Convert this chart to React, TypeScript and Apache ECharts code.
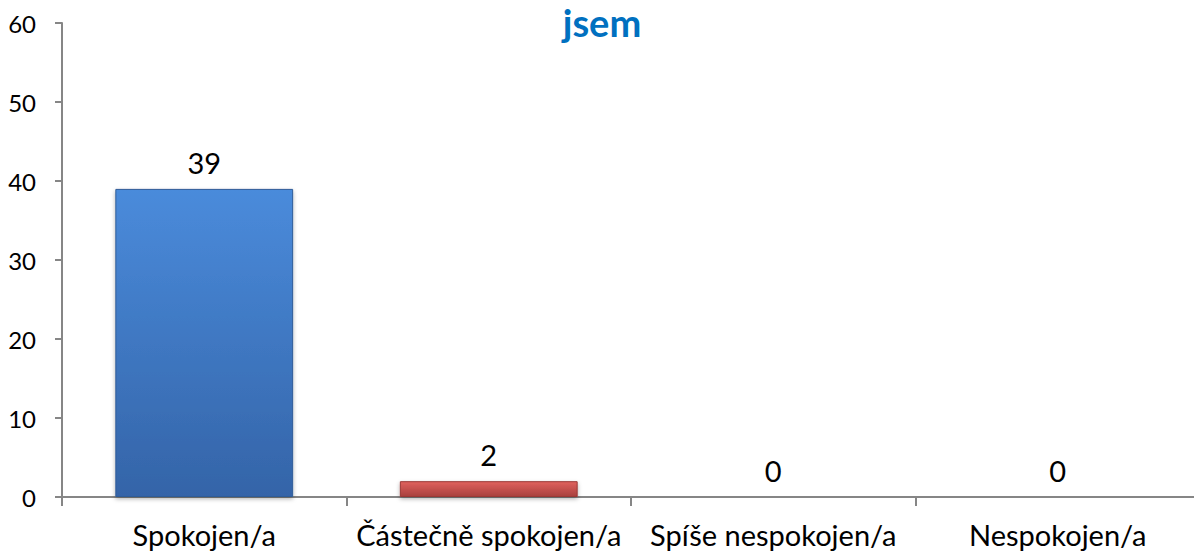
import React, { useEffect, useRef } from "react";
import * as echarts from "echarts";

const categories = ["Spokojen/a", "Částečně spokojen/a", "Spíše nespokojen/a", "Nespokojen/a"];
const values = [39, 2, 0, 0];
const yTicks = [0, 10, 20, 30, 40, 50, 60];
const titleText = "jsem";

const FONT = "Lato, 'Noto Sans', sans-serif";

export default function App() {
  const ref = useRef<HTMLDivElement>(null);
  useEffect(() => {
    const chart = echarts.init(ref.current!, undefined, { renderer: "svg" });
    const blue = new echarts.graphic.LinearGradient(0, 0, 0, 1, [
      { offset: 0, color: "#4a8bdb" },
      { offset: 1, color: "#3464a8" },
    ]);
    const red = new echarts.graphic.LinearGradient(0, 0, 0, 1, [
      { offset: 0, color: "#e0625e" },
      { offset: 1, color: "#a8403d" },
    ]);
    const colors = [blue, red, blue, blue];
    chart.setOption({
      animation: false,
      title: {
        text: titleText,
        left: 597,
        textAlign: "center",
        top: -2,
        textStyle: { color: "#0070c0", fontSize: 38, fontWeight: "bold", fontFamily: FONT },
      },
      grid: { left: 62, right: 6, top: 23, bottom: 56, containLabel: false },
      xAxis: {
        type: "category",
        data: categories,
        axisLine: { lineStyle: { color: "#868686", width: 2 } },
        axisTick: { show: true, length: 9, lineStyle: { color: "#868686", width: 2 } },
        axisLabel: { color: "#000", fontSize: 29, fontFamily: FONT, margin: 23, interval: 0 },
      },
      yAxis: {
        type: "value",
        min: yTicks[0],
        max: yTicks[yTicks.length - 1],
        interval: 10,
        splitLine: { show: false },
        axisLine: { show: true, lineStyle: { color: "#868686", width: 2 } },
        axisTick: { show: true, length: 7, lineStyle: { color: "#868686", width: 2 } },
        axisLabel: { color: "#000", fontSize: 24, fontFamily: FONT, margin: 26 },
      },
      series: [
        {
          type: "bar",
          barWidth: "62.5%",
          data: values.map((v, i) => ({
            value: v,
            itemStyle: { color: colors[i], borderColor: i === 1 ? "#9a3936" : "#2f5b98", borderWidth: 1 },
          })),
          label: {
            show: true,
            position: "top",
            distance: 12,
            color: "#000",
            fontSize: 29,
            fontFamily: FONT,
          },
          itemStyle: { shadowColor: "rgba(0,0,0,0.3)", shadowBlur: 4, shadowOffsetY: 2 },
        },
      ],
    });
    return () => chart.dispose();
  }, []);
  return (
    <div
      style={{ position: "fixed", left: 0, top: 0, width: 1194, height: 553, overflow: "hidden", background: "#fff" }}
    >
      <div ref={ref} style={{ width: 1206, height: 553 }} />
    </div>
  );
}
